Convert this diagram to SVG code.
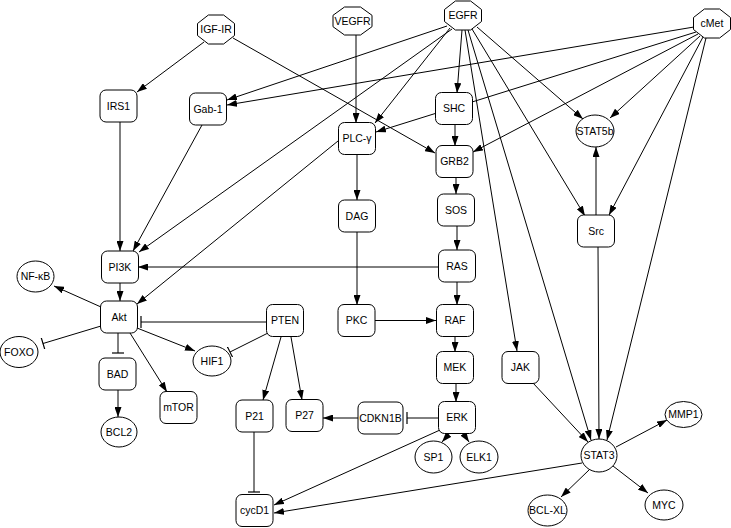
<svg xmlns="http://www.w3.org/2000/svg" width="731" height="528" viewBox="0 0 731 528">
<style>
.n{fill:#fff;stroke:#000;stroke-width:1}
.t{font-family:"Liberation Sans",Arial,sans-serif;font-size:10.5px;text-anchor:middle;fill:#000}
#edges line{stroke:#000;stroke-width:1;fill:none}
.a{marker-end:url(#arr)}
.b{marker-end:url(#tee)}
</style>
<defs>
<marker id="arr" markerUnits="userSpaceOnUse" markerWidth="10" markerHeight="7" refX="10" refY="3.5" orient="auto"><path d="M0,0 L10,3.5 L0,7 z" fill="#000"/></marker>
<marker id="tee" markerUnits="userSpaceOnUse" markerWidth="2" markerHeight="12" refX="1" refY="6" orient="auto"><path d="M1,0 V12" stroke="#000" stroke-width="1.2"/></marker>
</defs>
<rect width="731" height="528" fill="#fff"/>
<g id="edges">
<line class="a" x1="204" y1="42" x2="137" y2="92"/>
<line class="a" x1="233" y1="38" x2="435" y2="153"/>
<line class="a" x1="356" y1="35" x2="356" y2="123"/>
<line class="a" x1="447" y1="26" x2="227" y2="100"/>
<line class="a" x1="694" y1="27" x2="227" y2="105"/>
<line class="a" x1="450" y1="28" x2="375" y2="123"/>
<line class="a" x1="452" y1="29" x2="139" y2="252"/>
<line class="a" x1="462" y1="30" x2="457" y2="93"/>
<line class="a" x1="465" y1="30" x2="517" y2="351"/>
<line class="a" x1="468" y1="30" x2="591" y2="440"/>
<line class="a" x1="472" y1="29" x2="585" y2="216"/>
<line class="a" x1="477" y1="27" x2="583" y2="119"/>
<line class="a" x1="696" y1="32" x2="376" y2="132"/>
<line class="a" x1="698" y1="34" x2="473" y2="152"/>
<line class="a" x1="700" y1="36" x2="610" y2="118"/>
<line class="a" x1="703" y1="37" x2="609" y2="215"/>
<line class="a" x1="706" y1="38" x2="607" y2="440"/>
<line class="a" x1="455" y1="124" x2="455" y2="146"/>
<line class="a" x1="456" y1="177" x2="456" y2="194"/>
<line class="a" x1="457" y1="226" x2="457" y2="250"/>
<line class="a" x1="439" y1="267" x2="138" y2="267"/>
<line class="a" x1="457" y1="282" x2="457" y2="305"/>
<line class="a" x1="357" y1="154" x2="357" y2="200"/>
<line class="a" x1="357" y1="232" x2="357" y2="305"/>
<line class="a" x1="375" y1="320.5" x2="436" y2="320.5"/>
<line class="a" x1="338" y1="141" x2="137" y2="304"/>
<line class="a" x1="455" y1="336" x2="455" y2="352"/>
<line class="a" x1="456" y1="383" x2="456" y2="402"/>
<line class="b" x1="438" y1="418" x2="407" y2="418"/>
<line class="a" x1="358" y1="418" x2="323" y2="418"/>
<line class="a" x1="450" y1="433" x2="442" y2="442"/>
<line class="a" x1="463" y1="433" x2="469" y2="442"/>
<line class="a" x1="440" y1="430" x2="274" y2="505"/>
<line class="a" x1="582" y1="463" x2="274" y2="513"/>
<line class="a" x1="596" y1="215" x2="596" y2="147"/>
<line class="a" x1="598" y1="247" x2="599" y2="439"/>
<line class="a" x1="533" y1="383" x2="588" y2="442"/>
<line class="a" x1="616" y1="447" x2="667" y2="420"/>
<line class="a" x1="613" y1="466" x2="648" y2="493"/>
<line class="a" x1="589" y1="470" x2="561" y2="497"/>
<line class="a" x1="120" y1="122" x2="120" y2="251"/>
<line class="a" x1="202" y1="125" x2="133" y2="251"/>
<line class="a" x1="120" y1="283" x2="120" y2="301"/>
<line class="a" x1="101" y1="307" x2="54" y2="286"/>
<line class="b" x1="101" y1="326" x2="43" y2="343.5"/>
<line class="b" x1="118" y1="333" x2="118" y2="353"/>
<line class="a" x1="130" y1="333" x2="167" y2="392"/>
<line class="a" x1="137" y1="328" x2="195" y2="351"/>
<line class="b" x1="267" y1="322" x2="141" y2="322"/>
<line class="b" x1="268" y1="333" x2="230" y2="352"/>
<line class="a" x1="281" y1="337" x2="263" y2="400"/>
<line class="a" x1="291" y1="337" x2="302" y2="400"/>
<line class="a" x1="118" y1="390" x2="118" y2="417"/>
<line class="b" x1="254" y1="432" x2="254" y2="492"/>
</g>
<g id="IGF-IR"><polygon class="n" points="208.4,15 223.6,15 234.5,23.5 234.5,35.5 223.6,44 208.4,44 197.5,35.5 197.5,23.5"/><text class="t" x="216" y="33">IGF-IR</text></g>
<g id="VEGFR"><polygon class="n" points="344.5,7 360.5,7 372,15.3 372,26.7 360.5,35 344.5,35 333,26.7 333,15.3"/><text class="t" x="352.5" y="24.5">VEGFR</text></g>
<g id="EGFR"><polygon class="n" points="455.4,1 470.6,1 481.5,9.5 481.5,21.5 470.6,30 455.4,30 444.5,21.5 444.5,9.5"/><text class="t" x="463" y="19">EGFR</text></g>
<g id="cMet"><polygon class="n" points="704.4,9 719.6,9 730.5,17.5 730.5,29.5 719.6,38 704.4,38 693.5,29.5 693.5,17.5"/><text class="t" x="712" y="27">cMet</text></g>
<g id="IRS1"><rect class="n" x="100" y="90" width="37" height="32" rx="6"/><text class="t" x="118.5" y="109.5">IRS1</text></g>
<g id="Gab-1"><rect class="n" x="189.5" y="93" width="37" height="32" rx="6"/><text class="t" x="208" y="112.5">Gab-1</text></g>
<g id="SHC"><rect class="n" x="435.5" y="92.5" width="37" height="32" rx="6"/><text class="t" x="454" y="112">SHC</text></g>
<g id="PLC-g"><rect class="n" x="338.5" y="122.5" width="37" height="32" rx="6"/><text class="t" x="357" y="142">PLC-γ</text></g>
<g id="GRB2"><rect class="n" x="436" y="145.5" width="37" height="32" rx="6"/><text class="t" x="454.5" y="165">GRB2</text></g>
<g id="DAG"><rect class="n" x="338.5" y="200" width="37" height="32" rx="6"/><text class="t" x="357" y="219.5">DAG</text></g>
<g id="SOS"><rect class="n" x="437.5" y="194" width="37" height="32" rx="6"/><text class="t" x="456" y="213.5">SOS</text></g>
<g id="RAS"><rect class="n" x="438.5" y="250" width="37" height="32" rx="6"/><text class="t" x="457" y="269.5">RAS</text></g>
<g id="PI3K"><rect class="n" x="101.5" y="251" width="37" height="32" rx="6"/><text class="t" x="120" y="270.5">PI3K</text></g>
<g id="Akt"><rect class="n" x="100.5" y="301" width="37" height="32" rx="6"/><text class="t" x="119" y="320.5">Akt</text></g>
<g id="PTEN"><rect class="n" x="266.5" y="304.5" width="37" height="32" rx="6"/><text class="t" x="285" y="324">PTEN</text></g>
<g id="PKC"><rect class="n" x="338" y="304.5" width="37" height="32" rx="6"/><text class="t" x="356.5" y="324">PKC</text></g>
<g id="RAF"><rect class="n" x="436.5" y="304.5" width="37" height="32" rx="6"/><text class="t" x="455" y="324">RAF</text></g>
<g id="Src"><rect class="n" x="577.5" y="215" width="37" height="32" rx="6"/><text class="t" x="596" y="234.5">Src</text></g>
<g id="BAD"><rect class="n" x="99" y="358" width="37" height="32" rx="6"/><text class="t" x="117.5" y="377.5">BAD</text></g>
<g id="mTOR"><rect class="n" x="160" y="391.5" width="37" height="32" rx="6"/><text class="t" x="178.5" y="411">mTOR</text></g>
<g id="P21"><rect class="n" x="236" y="400" width="37" height="32" rx="6"/><text class="t" x="254.5" y="419.5">P21</text></g>
<g id="P27"><rect class="n" x="286" y="399.5" width="37" height="32" rx="6"/><text class="t" x="304.5" y="419">P27</text></g>
<g id="CDKN1B"><rect class="n" x="358" y="402" width="45" height="32" rx="6"/><text class="t" x="380.5" y="421.5">CDKN1B</text></g>
<g id="MEK"><rect class="n" x="436.5" y="351.5" width="37" height="32" rx="6"/><text class="t" x="455" y="371">MEK</text></g>
<g id="ERK"><rect class="n" x="438.5" y="401.5" width="37" height="32" rx="6"/><text class="t" x="457" y="421">ERK</text></g>
<g id="JAK"><rect class="n" x="502" y="351.5" width="37" height="32" rx="6"/><text class="t" x="520.5" y="371">JAK</text></g>
<g id="cycD1"><rect class="n" x="236" y="494.5" width="37" height="32" rx="6"/><text class="t" x="254.5" y="514">cycD1</text></g>
<g id="NF-kB"><ellipse class="n" cx="35.5" cy="276.5" rx="18.5" ry="15.5"/><text class="t" x="35.5" y="280">NF-κB</text></g>
<g id="FOXO"><ellipse class="n" cx="19" cy="352" rx="19" ry="15.5"/><text class="t" x="19" y="355.5">FOXO</text></g>
<g id="HIF1"><ellipse class="n" cx="212" cy="361" rx="19" ry="15"/><text class="t" x="212" y="364.5">HIF1</text></g>
<g id="BCL2"><ellipse class="n" cx="119" cy="432" rx="18" ry="15"/><text class="t" x="119" y="435.5">BCL2</text></g>
<g id="STAT5b"><ellipse class="n" cx="595" cy="131" rx="19" ry="16"/><text class="t" x="595" y="134.5">STAT5b</text></g>
<g id="SP1"><ellipse class="n" cx="433.5" cy="457" rx="18.5" ry="16"/><text class="t" x="433.5" y="460.5">SP1</text></g>
<g id="ELK1"><ellipse class="n" cx="479" cy="457" rx="19" ry="16"/><text class="t" x="479" y="460.5">ELK1</text></g>
<g id="STAT3"><ellipse class="n" cx="599" cy="455.5" rx="18" ry="16.5"/><text class="t" x="599" y="459">STAT3</text></g>
<g id="MMP1"><ellipse class="n" cx="683.5" cy="414.5" rx="18.5" ry="13"/><text class="t" x="683.5" y="418">MMP1</text></g>
<g id="MYC"><ellipse class="n" cx="664" cy="505" rx="19" ry="15"/><text class="t" x="664" y="508.5">MYC</text></g>
<g id="BCL-XL"><ellipse class="n" cx="547.5" cy="510.5" rx="19.5" ry="15.5"/><text class="t" x="547.5" y="514">BCL-XL</text></g>
</svg>
